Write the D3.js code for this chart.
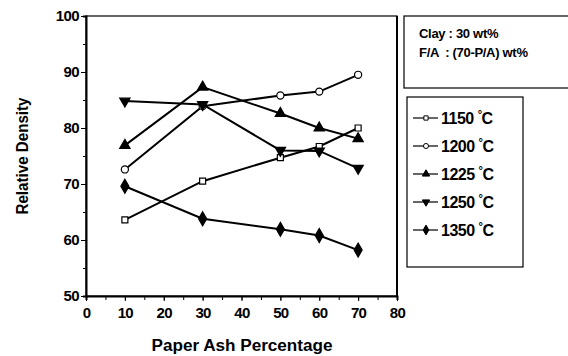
<!DOCTYPE html>
<html>
<head>
<meta charset="utf-8">
<script src="https://cdn.jsdelivr.net/npm/d3@7"></script>
<style>
  body { margin: 0; background: #fff; }
  svg { display: block; }
  text { font-family: "Liberation Sans", Arial, sans-serif; font-weight: bold; fill: #000; }
</style>
</head>
<body>
<div id="chart"></div>
<script>
// paper ash percentage (x) and relative density per firing temperature
const paperAsh = [10, 30, 50, 60, 70];
const temps = ["1150", "1200", "1225", "1250", "1350"];
const d1150 = [63.6, 70.5, 74.7, 76.7, 80.0];
const d1200 = [72.6, 83.9, 85.8, 86.5, 89.5];
const d1225 = [76.9, 87.3, 82.6, 80.0, 78.1];
const d1250 = [84.8, 84.2, 76.0, 75.9, 72.8];
const d1350 = [69.6, 63.8, 61.9, 60.8, 58.2];
const xTicks = [0, 10, 20, 30, 40, 50, 60, 70, 80];
const yTicks = [50, 60, 70, 80, 90, 100];
const noteLines = ["Clay : 30 wt%", "F/A  : (70-P/A) wt%"];

const width = 568, height = 356;
const margin = {top: 16, right: 171, bottom: 60, left: 86};

const svg = d3.select("#chart").append("svg")
  .attr("width", width)
  .attr("height", height);

const x = d3.scaleLinear().domain([0, 80]).range([margin.left, width - margin.right]);
const y = d3.scaleLinear().domain([50, 100]).range([height - margin.bottom, margin.top]);

const series = [
  {name: temps[0], values: d1150, symbol: d3.symbolSquare, size: 36, fill: "#fff", rotate: 0},
  {name: temps[1], values: d1200, symbol: d3.symbolCircle, size: 40, fill: "#fff", rotate: 0},
  {name: temps[2], values: d1225, symbol: d3.symbolTriangle, size: 46, fill: "#000", rotate: 0},
  {name: temps[3], values: d1250, symbol: d3.symbolTriangle, size: 46, fill: "#000", rotate: 180},
  {name: temps[4], values: d1350, symbol: d3.symbolDiamond, size: 56, fill: "#000", rotate: 0}
];

// frame
svg.append("rect")
  .attr("x", x(0)).attr("y", y(100))
  .attr("width", x(80) - x(0)).attr("height", y(50) - y(100))
  .attr("fill", "none").attr("stroke", "#000").attr("stroke-width", 1.2);
svg.append("line")
  .attr("x1", x(80)).attr("x2", x(80)).attr("y1", y(100)).attr("y2", y(50))
  .attr("stroke", "#000").attr("stroke-width", 2);

// axes
const xAxis = svg.append("g")
  .attr("transform", `translate(0,${y(50)})`)
  .call(d3.axisBottom(x).tickValues(d3.range(0, 81, 5)).tickSize(4).tickFormat(""));
xAxis.select(".domain").attr("stroke-width", 2);
svg.append("g")
  .attr("transform", `translate(0,${y(50)})`)
  .call(d3.axisBottom(x).tickValues(xTicks).tickSize(5).tickPadding(6))
  .call(g => g.select(".domain").remove())
  .selectAll("text").attr("font-size", 15).attr("font-family", null).attr("letter-spacing", -0.6);

const yAxis = svg.append("g")
  .attr("transform", `translate(${x(0)},0)`)
  .call(d3.axisLeft(y).tickValues(d3.range(50, 101, 5)).tickSize(3).tickFormat(""));
yAxis.select(".domain").attr("stroke-width", 2);
svg.append("g")
  .attr("transform", `translate(${x(0)},0)`)
  .call(d3.axisLeft(y).tickValues(yTicks).tickSize(5).tickPadding(2))
  .call(g => g.select(".domain").remove())
  .selectAll("text").attr("font-size", 15).attr("font-family", null).attr("letter-spacing", -0.6);

svg.selectAll(".tick line").attr("stroke", "#000");

// axis titles
svg.append("text")
  .attr("x", 242).attr("y", 351)
  .attr("text-anchor", "middle").attr("font-size", 16)
  .attr("textLength", 181).attr("lengthAdjust", "spacingAndGlyphs")
  .text("Paper Ash Percentage");
svg.append("text")
  .attr("transform", `translate(28,156) rotate(-90)`)
  .attr("text-anchor", "middle").attr("font-size", 16)
  .attr("textLength", 117).attr("lengthAdjust", "spacingAndGlyphs")
  .text("Relative Density");

// lines + markers
const line = d3.line().x((d, i) => x(paperAsh[i])).y(d => y(d));
series.forEach(s => {
  svg.append("path")
    .datum(s.values)
    .attr("d", line)
    .attr("fill", "none").attr("stroke", "#000").attr("stroke-width", 2);
  svg.selectAll(null).data(s.values).enter()
    .append("path")
    .attr("d", d3.symbol(s.symbol, s.size))
    .attr("transform", (d, i) => `translate(${x(paperAsh[i])},${y(d)}) rotate(${s.rotate})`)
    .attr("fill", s.fill).attr("stroke", "#000").attr("stroke-width", 1.2);
});

// note box
svg.append("rect")
  .attr("x", 404).attr("y", 16).attr("width", 170).attr("height", 72)
  .attr("fill", "none").attr("stroke", "#000").attr("stroke-width", 1.2);
svg.selectAll("text.note").data(noteLines).enter()
  .append("text").classed("note", true)
  .attr("x", 419).attr("y", (d, i) => 38 + i * 19)
  .attr("font-size", 13)
  .attr("letter-spacing", -0.3)
  .attr("xml:space", "preserve")
  .text(d => d);

// legend
svg.append("rect")
  .attr("x", 407).attr("y", 97).attr("width", 116).attr("height", 170)
  .attr("fill", "none").attr("stroke", "#000").attr("stroke-width", 1.2);
const legend = svg.selectAll("g.legend").data(series).enter()
  .append("g").classed("legend", true)
  .attr("transform", (d, i) => `translate(413,${118 + i * 28})`);
legend.append("line")
  .attr("x1", 0).attr("x2", 25)
  .attr("stroke", "#000").attr("stroke-width", 1.2);
legend.append("path")
  .attr("d", d => d3.symbol(d.symbol, d.size * 0.5)())
  .attr("transform", d => `translate(13,0) rotate(${d.rotate})`)
  .attr("fill", d => d.fill).attr("stroke", "#000").attr("stroke-width", 1);
const lt = legend.append("text")
  .attr("x", 28).attr("y", 6)
  .attr("font-size", 16)
  .attr("letter-spacing", -0.5);
lt.append("tspan").text(d => d.name + " ");
lt.append("tspan").attr("dy", -6).attr("font-size", 11).text("°");
lt.append("tspan").attr("dy", 6).text("C");
</script>
</body>
</html>
